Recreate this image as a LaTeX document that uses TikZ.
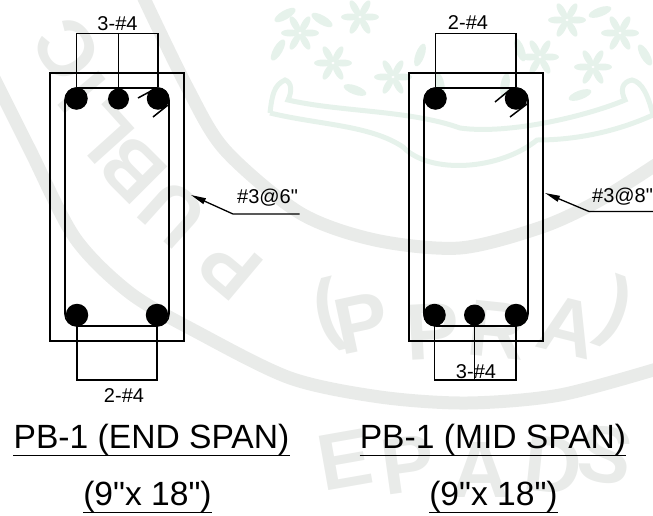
\documentclass[tikz,border=0pt]{standalone}
\usepackage{fontspec}
\setmainfont{Liberation Sans}[Ligatures=TeXOff]
\usetikzlibrary{arrows.meta}
\definecolor{markgray}{HTML}{E9EBE9}
\definecolor{markgreen}{HTML}{E6F2EB}
\begin{document}
\begin{tikzpicture}[x=1pt,y=-1pt,
	barnode/.style = {shape = circle,
	                  fill = black,
	                  inner sep=0pt,
	                  minimum size = 22.5pt},
	beamnode/.style = {shape = rectangle,
	                   draw,
	                   line width=1.3pt,
	                   minimum width = 134pt,
	                   minimum height = 268pt},
	tienode/.style = {shape = rectangle,
	                  draw,
	                  line width=1.6pt,
	                  rounded corners=12pt,
	                  minimum width = 104pt,
	                  minimum height = 238pt},
	rebar/.style = {line width=1.3pt},
	hook/.style = {line width=1.5pt},
	leader/.style = {line width=1.3pt},
	lbl/.style = {font=\fontsize{20}{24}\selectfont, inner sep=0pt, anchor=base},
	title/.style = {font=\fontsize{33.6}{38}\selectfont, inner sep=0pt, anchor=base},
	markband/.style = {draw=markgray, line width=13pt},
	markseal/.style = {text=markgray, font=\fontsize{78}{82}\selectfont\bfseries, inner sep=0pt},
	markword/.style = {text=markgray, font=\fontsize{80}{84}\selectfont\bfseries, inner sep=0pt},
	leaf/.style = {fill=markgreen},
	scroll/.style = {draw=markgreen, line width=5pt}]
	\useasboundingbox (0,0) rectangle (653,515);
	% watermark
	\clip (0,0) rectangle (653,515);
	\draw[markband] plot[smooth] coordinates {(140,-10) (187,87) (225,150) (300,213) (375,240) (460,248) (542,227) (600,200) (660,162)};
	\draw[markband] plot[smooth] coordinates {(-10,70) (30,150) (75,238) (130,293) (197,332) (290,378) (380,397) (467,403) (560,395) (660,368)};
	\node[markseal, rotate=125] (mc) at (67,50) {C};
	\node[markseal, rotate=130] (mi) at (82,92) {I};
	\node[markseal, rotate=132] (ml) at (103,133) {L};
	\node[markseal, rotate=135] (mb) at (133,170) {B};
	\node[markseal, rotate=138] (mu) at (173,213) {U};
	\node[markseal, rotate=140] (mp) at (230,267) {P};
	\node[markword, rotate=14] (po) at (328,315) {(};
	\node[markword, rotate=12] (pa) at (362,323) {P};
	\node[markword, rotate=3] (pb) at (433,332) {P};
	\node[markword, rotate=-6] (pc) at (497,330) {R};
	\node[markword, rotate=-14] (pd) at (568,327) {A};
	\node[markword, rotate=-20] (pe) at (615,313) {)};
	\node[markword, rotate=10] (ea) at (345,460) {E};
	\node[markword, rotate=8] (eb) at (408,465) {P};
	\node[markword] (ec) at (480,470) {A};
	\node[markword, rotate=-6] (ed) at (553,465) {D};
	\node[markword, rotate=-10] (ee) at (606,455) {S};
	% wreath
	\foreach \x/\y in {300/33, 360/17, 333/63, 393/77, 620/33, 567/20, 593/67, 540/57}
		\foreach \a in {0,60,...,300}
			\fill[leaf, rotate around={\a:(\x,\y)}] (\x+10,\y) ellipse (9 and 3.5);
	\foreach \x/\y/\a in {278/50/60, 322/20/-30, 420/55/70, 440/85/100, 505/85/80, 520/50/110, 645/55/-60, 600/12/20, 285/15/30, 355/90/-20, 580/95/20}
		\fill[leaf, rotate around={\a:(\x,\y)}] (\x,\y) ellipse (12 and 4.5);
	\draw[scroll] (270,113) .. controls (272,95) and (274,85) .. (285,80) .. controls (292,82) and (292,92) .. (288,100)
		.. controls (340,112) and (410,110) .. (460,128) .. controls (510,135) and (590,115) .. (625,100)
		.. controls (620,90) and (622,82) .. (632,80) .. controls (642,82) and (648,95) .. (653,115);
	\draw[scroll] (270,113) .. controls (320,125) and (370,125) .. (403,147) .. controls (430,175) and (500,170) .. (537,140)
		.. controls (580,140) and (620,130) .. (653,115);

	% END SPAN
	\node[beamnode] (lbeam) at (117,207) {};
	\node[tienode] (ltie) at (117,207) {};
	\node[barnode] (l1) at (76.5,98.5) {};
	\node[barnode, minimum size=21pt] (l2) at (118.5,99) {};
	\node[barnode] (l3) at (158,98.5) {};
	\node[barnode] (l4) at (77,315) {};
	\node[barnode] (l5) at (157,315) {};
	\coordinate (ltop) at (0,33.3);
	\coordinate (lbot) at (0,380);
	\draw[rebar] (l1) -- (l1 |- ltop) -| (l3);
	\draw[rebar] (l2) -- (l2 |- ltop);
	\draw[rebar] (l4) -- (l4 |- lbot) -| (l5);
	\coordinate (lh1) at (138,98);
	\coordinate (lh2) at (151,91);
	\coordinate (lh3) at (153,117);
	\coordinate (lh4) at (168,105);
	\draw[hook] (lh1) -- (lh2);
	\draw[hook] (lh3) -- (lh4);
	\node[lbl] (ltoplbl) at (117.5,30) {3-\#4};
	\node[lbl] (lbotlbl) at (124,402) {2-\#4};
	\node[lbl, anchor=base west] (lstir) at (237,203) {\#3@6"};
	\coordinate (ltip) at (191,195);
	\coordinate (lbend) at (233,214);
	\coordinate (lend) at (299.5,214);
	\draw[leader, {Stealth[length=15pt,width=6pt,inset=0pt]}-] (ltip) -- (lbend) -- (lend);
	\node[title] (ltitle) at (151.5,448) {PB-1 (END SPAN)};
	\node[title] (lsize) at (147.5,505) {(9"x 18")};
	\draw[line width=1.2pt] (ltitle.south west) -- (ltitle.south east);
	\draw[line width=1.2pt] (lsize.south west) -- (lsize.south east);

	% MID SPAN
	\node[beamnode] (rbeam) at (476,207) {};
	\node[tienode] (rtie) at (476,207) {};
	\node[barnode] (r1) at (435.5,98.5) {};
	\node[barnode] (r2) at (516,98.5) {};
	\node[barnode] (r3) at (434.5,315) {};
	\node[barnode, minimum size=21pt] (r4) at (474.5,315) {};
	\node[barnode] (r5) at (516,315) {};
	\coordinate (rtop) at (0,33.3);
	\coordinate (rbot) at (0,380);
	\draw[rebar] (r1) -- (r1 |- rtop) -| (r2);
	\draw[rebar] (r3) -- (r3 |- rbot) -| (r5);
	\draw[rebar] (r4) -- (r4 |- rbot);
	\coordinate (rh1) at (495,102);
	\coordinate (rh2) at (512,88);
	\coordinate (rh3) at (510,117);
	\coordinate (rh4) at (527,104);
	\draw[hook] (rh1) -- (rh2);
	\draw[hook] (rh3) -- (rh4);
	\node[lbl] (rtoplbl) at (468,29) {2-\#4};
	\node[lbl] (rbotlbl) at (476,378) {3-\#4};
	\node[lbl, anchor=base west] (rstir) at (592,202) {\#3@8"};
	\coordinate (rtip) at (545,193);
	\coordinate (rbend) at (589,211.5);
	\coordinate (rend) at (653,211.5);
	\draw[leader, {Stealth[length=15pt,width=6pt,inset=0pt]}-] (rtip) -- (rbend) -- (rend);
	\node[title] (rtitle) at (493,448) {PB-1 (MID SPAN)};
	\node[title] (rsize) at (493.5,505) {(9"x 18")};
	\draw[line width=1.2pt] (rtitle.south west) -- (rtitle.south east);
	\draw[line width=1.2pt] (rsize.south west) -- (rsize.south east);
\end{tikzpicture}
\end{document}
